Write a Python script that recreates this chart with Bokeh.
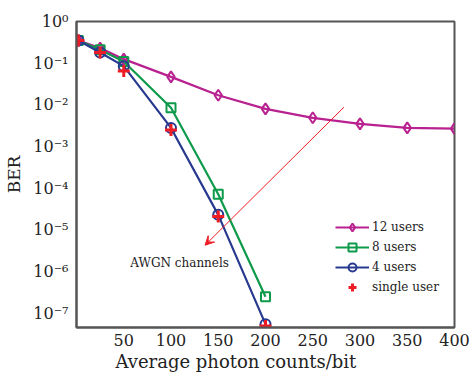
from bokeh.plotting import figure
from bokeh.models import (Range1d, FixedTicker, CustomJSTickFormatter, Legend, LegendItem,
                          Label, Arrow, VeeHead, Title)
from bokeh.embed import file_html
from bokeh.resources import INLINE

# ---- data ----
x_vals = [2, 25, 50, 100, 150, 200, 250, 300, 350, 400]
ber_12 = [0.35, 0.23, 0.125, 0.047, 0.017, 0.008, 0.0049, 0.0035, 0.0028, 0.0027]
x_short = [2, 25, 50, 100, 150, 200]
ber_8 = [0.35, 0.21, 0.11, 0.0085, 7.2e-5, 2.5e-7]
ber_4 = [0.35, 0.18, 0.085, 0.0028, 2.3e-5, 5.5e-8]
ber_1 = [0.35, 0.18, 0.065, 0.0025, 2.1e-5, 5.0e-8]
x_ticks = [50, 100, 150, 200, 250, 300, 350, 400]
y_ticks = [1e-7, 1e-6, 1e-5, 1e-4, 1e-3, 1e-2, 1e-1, 1.0]
labels = ["12 users", "8 users", "4 users", "single user"]
arrow_start = (283, 8.8e-3)
arrow_end = (136, 4.3e-6)
note_pos = (57, 1.6e-6)
note_text = "AWGN channels"
x_title = "Average photon counts/bit"
y_title = "BER"

FONT = "DejaVu Serif"
C12, C8, C4, C1 = "#B8218F", "#0E9A4B", "#283A90", "#EE1C25"
TXT = "#222222"

p = figure(width=471, height=372, output_backend="svg", toolbar_location=None,
           y_axis_type="log", x_range=Range1d(0, 400),
           y_range=Range1d(10 ** -7.34, 1.0),
           min_border_left=76, min_border_right=17, min_border_top=21, min_border_bottom=45)
p.grid.visible = False
p.outline_line_color = "#555555"
p.outline_line_width = 2
p.background_fill_color = "white"

sup_js = """
const sup = {'-':'\u207b','0':'\u2070','1':'\u00b9','2':'\u00b2','3':'\u00b3','4':'\u2074','5':'\u2075','6':'\u2076','7':'\u2077','8':'\u2078','9':'\u2079'};
const e = Math.round(Math.log10(tick));
return '10' + String(e).split('').map(c => sup[c]).join('');
"""
p.yaxis.ticker = FixedTicker(ticks=y_ticks, minor_ticks=[])
p.yaxis.formatter = CustomJSTickFormatter(code=sup_js)
p.xaxis.ticker = FixedTicker(ticks=x_ticks, minor_ticks=[])
for ax in (p.xaxis[0], p.yaxis[0]):
    ax.major_tick_line_color = None
    ax.minor_tick_line_color = None
    ax.major_tick_out = 0
    ax.major_tick_in = 0
    ax.axis_line_color = "#555555"
    ax.axis_line_width = 2
    ax.major_label_text_font = FONT
    ax.major_label_text_font_size = "16px"
    ax.major_label_text_color = TXT
    ax.axis_label_text_font = FONT
    ax.axis_label_text_font_style = "normal"
    ax.axis_label_text_font_size = "17px"
    ax.axis_label_text_color = TXT
p.xaxis.major_label_standoff = 6
p.yaxis.major_label_standoff = 8
p.yaxis.axis_label_standoff = 6
p.yaxis.axis_label = y_title

# x axis title, left-offset as in the original
p.add_layout(Title(text=x_title, align="left", offset=39, standoff=0,
                   text_font=FONT, text_font_size="18px", text_font_style="normal",
                   text_color=TXT), "below")

l12 = p.line(x_vals, ber_12, color=C12, line_width=2.2)
s12 = p.scatter(x_vals, ber_12, marker="diamond", size=11, fill_color=None, line_color=C12, line_width=2)
l8 = p.line(x_short, ber_8, color=C8, line_width=2.2)
s8 = p.scatter(x_short, ber_8, marker="square", size=9, fill_color=None, line_color=C8, line_width=2)
l4 = p.line(x_short, ber_4, color=C4, line_width=2.2)
s4 = p.scatter(x_short, ber_4, marker="circle", size=10, fill_color=None, line_color=C4, line_width=2)
s1 = p.scatter(x_short, ber_1, marker="cross", size=12, line_color=C1, line_width=3)

p.add_layout(Arrow(end=VeeHead(size=9, fill_color=C1, line_color=C1, line_width=1),
                   x_start=arrow_start[0], y_start=arrow_start[1],
                   x_end=arrow_end[0], y_end=arrow_end[1], line_color=C1, line_width=1))
p.add_layout(Label(x=note_pos[0], y=note_pos[1], text=note_text, text_font=FONT,
                   text_font_size="12px", text_color=TXT, text_baseline="middle"))

legend = Legend(items=[LegendItem(label=labels[0], renderers=[l12, s12]),
                       LegendItem(label=labels[1], renderers=[l8, s8]),
                       LegendItem(label=labels[2], renderers=[l4, s4]),
                       LegendItem(label=labels[3], renderers=[s1])],
                location=(257, 28), border_line_alpha=0, background_fill_alpha=0,
                label_text_font=FONT, label_text_font_size="12px", label_text_color=TXT,
                glyph_width=34, glyph_height=20, label_height=20, label_standoff=3,
                spacing=-3, padding=2, margin=0)
p.add_layout(legend, "center")

open("out.html", "w").write(file_html(p, INLINE))
